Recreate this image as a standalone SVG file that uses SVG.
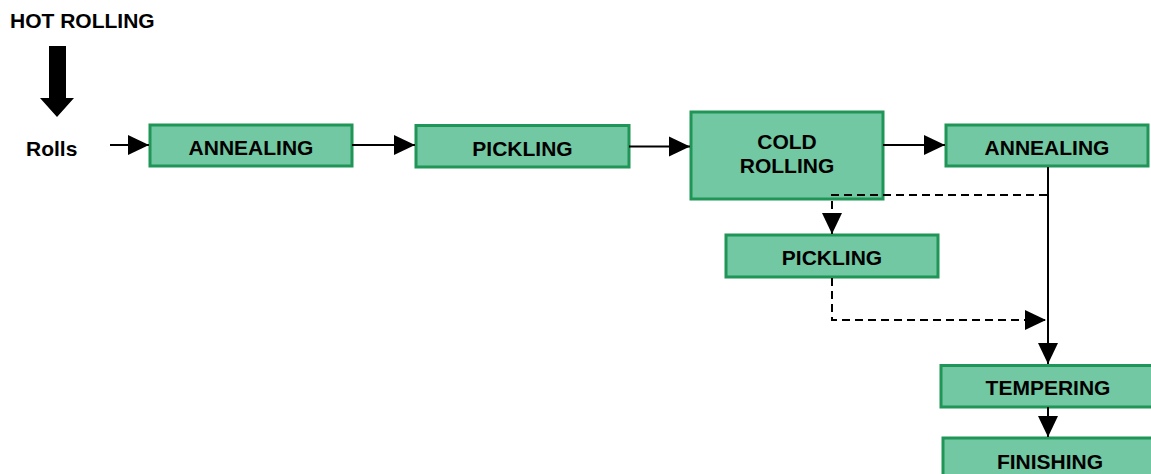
<svg xmlns="http://www.w3.org/2000/svg" width="1151" height="474" viewBox="0 0 1151 474">
  <style>
    .box { fill: #72c8a2; stroke: #1f9557; stroke-width: 3; }
    .lbl { font-family: "Liberation Sans", Arial, sans-serif; font-weight: bold; font-size: 21px; fill: #000; text-anchor: middle; }
    .plain { font-family: "Liberation Sans", Arial, sans-serif; font-weight: bold; font-size: 21px; fill: #000; }
    .flow { fill: none; stroke: #000; stroke-width: 2; }
    .dash { fill: none; stroke: #000; stroke-width: 2; stroke-dasharray: 8 5; }
  </style>
  <defs>
    <marker id="head" markerUnits="userSpaceOnUse" markerWidth="22" markerHeight="22" viewBox="0 0 22 22" refX="21" refY="11" orient="auto">
      <path d="M0,1 L21,11 L0,21 Z" fill="#000"/>
    </marker>
  </defs>

  <rect width="1151" height="474" fill="#fff"/>

  <!-- heading and input -->
  <text class="plain" x="10" y="28">HOT ROLLING</text>
  <polygon points="49,46 66,46 66,98 74,98 57,117 40,98 49,98" fill="#000"/>
  <text class="plain" x="26" y="156">Rolls</text>

  <!-- process steps -->
  <g id="annealing-1">
    <rect class="box" x="150" y="125" width="202" height="41"/>
    <text class="lbl" x="251" y="155">ANNEALING</text>
  </g>
  <g id="pickling-1">
    <rect class="box" x="416" y="125.5" width="213" height="41.5"/>
    <text class="lbl" x="522.5" y="155.5">PICKLING</text>
  </g>
  <g id="cold-rolling">
    <rect class="box" x="691" y="112" width="192" height="87"/>
    <text class="lbl" x="787" y="149">COLD</text>
    <text class="lbl" x="787" y="172.5">ROLLING</text>
  </g>
  <g id="annealing-2">
    <rect class="box" x="946" y="125" width="202" height="41"/>
    <text class="lbl" x="1047" y="155">ANNEALING</text>
  </g>
  <g id="pickling-2">
    <rect class="box" x="726" y="235" width="212" height="42"/>
    <text class="lbl" x="832" y="265">PICKLING</text>
  </g>
  <g id="tempering">
    <rect class="box" x="941" y="365.5" width="214" height="41.5"/>
    <text class="lbl" x="1048" y="395">TEMPERING</text>
  </g>
  <g id="finishing">
    <rect class="box" x="943" y="438" width="214" height="45"/>
    <text class="lbl" x="1050" y="469">FINISHING</text>
  </g>

  <!-- connectors, drawn over the boxes -->
  <g id="connectors">
    <line class="flow" x1="110" y1="145" x2="149" y2="145" marker-end="url(#head)"/>
    <line class="flow" x1="352" y1="145" x2="415" y2="145" marker-end="url(#head)"/>
    <line class="flow" x1="629" y1="146.5" x2="690" y2="146.5" marker-end="url(#head)"/>
    <line class="flow" x1="883" y1="145" x2="945" y2="145" marker-end="url(#head)"/>
    <line class="flow" x1="1048" y1="167" x2="1048" y2="364" marker-end="url(#head)"/>
    <line class="flow" x1="1048" y1="407" x2="1048" y2="437" marker-end="url(#head)"/>
    <polyline class="dash" points="1047,195 832,195 832,234" marker-end="url(#head)"/>
    <polyline class="dash" points="832,278 832,320 1046,320" marker-end="url(#head)"/>
  </g>
</svg>
